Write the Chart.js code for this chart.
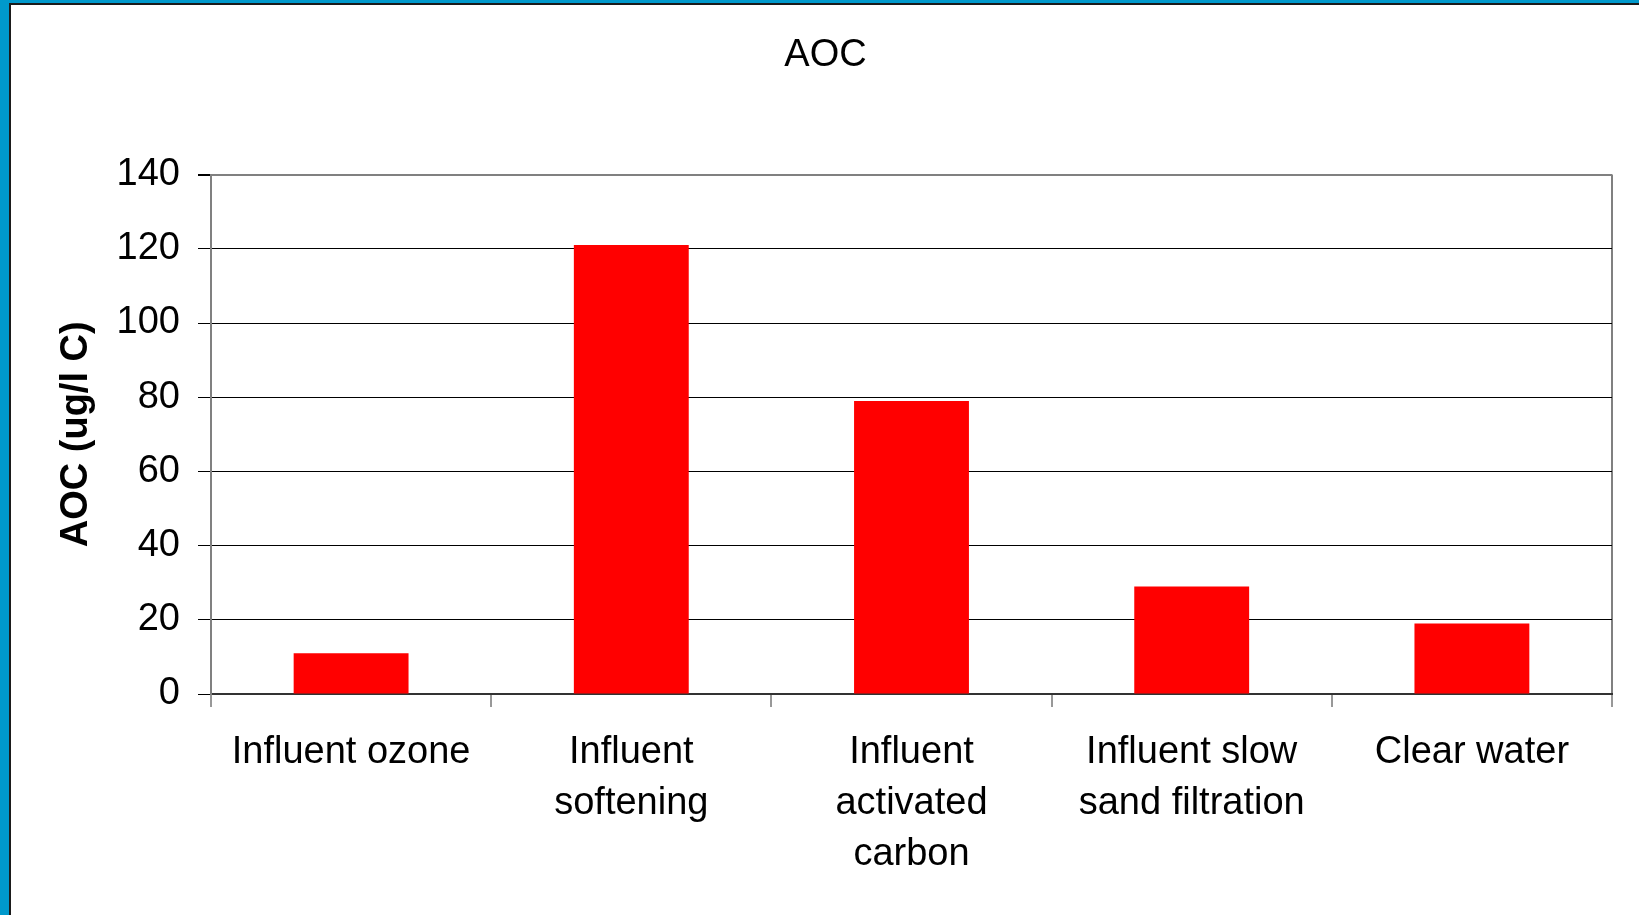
<!DOCTYPE html>
<html>
<head>
<meta charset="utf-8">
<script src="https://cdn.jsdelivr.net/npm/chart.js@4"></script>
<style>
    html, body { margin: 0; padding: 0; background: #fff; }
    #wrap { position: relative; width: 1639px; height: 915px; overflow: hidden; }
    #frame { position: absolute; left: 0; top: 0; width: 1639px; height: 915px; box-sizing: border-box;
             border-left: 9px solid #0099cc; border-top: 3px solid #0099cc; pointer-events: none; }
    #frame div { width: 100%; height: 100%; box-sizing: border-box;
                 border-left: 2px solid #1b1b1b; border-top: 2px solid #1b1b1b; }
</style>
</head>
<body>
<div id="wrap">
    <canvas id="aocChart" width="1639" height="915"></canvas>
    <div id="frame"><div></div></div>
</div>
<script>
const categories = [
    ['Influent ozone'],
    ['Influent', 'softening'],
    ['Influent', 'activated', 'carbon'],
    ['Influent slow', 'sand filtration'],
    ['Clear water']
];
const aocValues = [11, 121, 79, 29, 19];
const yTicks = [0, 20, 40, 60, 80, 100, 120, 140];

const fontFamily = '"Liberation Sans", Arial, sans-serif';

const ctx = document.getElementById('aocChart').getContext('2d');
new Chart(ctx, {
    type: 'bar',
    data: {
        labels: categories,
        datasets: [{
            label: 'AOC',
            data: aocValues,
            backgroundColor: '#ff0000',
            borderWidth: 0,
            barPercentage: 0.41,
            categoryPercentage: 1
        }]
    },
    options: {
        responsive: false,
        animation: false,
        layout: { padding: { left: 12, right: 0, top: 0, bottom: 0 } },
        plugins: {
            legend: { display: false },
            tooltip: { enabled: false },
            title: {
                display: true,
                text: 'AOC',
                color: '#000',
                font: { family: fontFamily, size: 38, weight: 'normal', lineHeight: 1.2 },
                padding: { top: 33, bottom: 96 }
            }
        },
        scales: {
            x: {
                offset: true,
                border: { color: '#333', width: 2 },
                grid: {
                    offset: true,
                    drawOnChartArea: true,
                    color: c => c.type === 'scale' ? '#808080' : 'rgba(0,0,0,0)',
                    lineWidth: 2,
                    tickColor: '#333',
                    tickWidth: 1,
                    tickLength: 13
                },
                ticks: {
                    color: '#000',
                    padding: 20,
                    maxRotation: 0,
                    autoSkip: false,
                    font: { family: fontFamily, size: 38, lineHeight: 1.34 }
                },
                afterFit: scale => { scale.height = 221; }
            },
            y: {
                min: 0,
                max: 140,
                afterBuildTicks: scale => { scale.ticks = yTicks.map(v => ({ value: v })); },
                border: { color: '#808080', width: 2 },
                grid: {
                    color: c => c.tick && c.tick.value === 140 ? '#808080' : '#000',
                    lineWidth: c => c.tick && c.tick.value === 140 ? 2 : 1,
                    tickColor: '#000',
                    tickLength: 13
                },
                ticks: {
                    color: '#000',
                    padding: 18,
                    font: { family: fontFamily, size: 38 }
                },
                title: {
                    display: true,
                    text: 'AOC (ug/l C)',
                    color: '#000',
                    font: { family: fontFamily, size: 38, weight: 'bold', lineHeight: 1.2 },
                    padding: { top: 42, bottom: 0 }
                },
                afterFit: scale => { scale.width = 199; }
            },
            // empty right-hand box so the title centres on the whole figure
            yRight: {
                position: 'right',
                min: 0,
                max: 140,
                border: { display: false },
                grid: { display: false },
                ticks: { display: false },
                afterFit: scale => { scale.width = 27; }
            }
        }
    }
});
</script>
</body>
</html>
